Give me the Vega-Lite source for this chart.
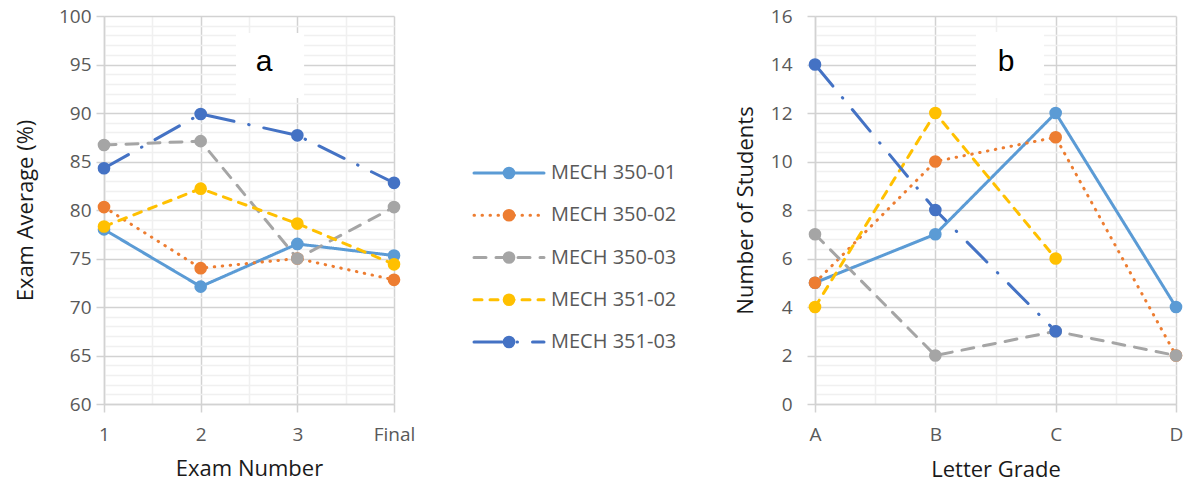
{
  "$schema": "https://vega.github.io/schema/vega-lite/v6.json",
  "padding": {"left": 14, "top": 7, "right": 0, "bottom": 0},
  "background": "white",
  "spacing": 57,
  "datasets": {
    "exams": [
      {"section": "MECH 350-01", "exam": 1, "average": 78.0},
      {"section": "MECH 350-01", "exam": 2, "average": 72.1},
      {"section": "MECH 350-01", "exam": 3, "average": 76.5},
      {"section": "MECH 350-01", "exam": 4, "average": 75.3},
      {"section": "MECH 350-02", "exam": 1, "average": 80.3},
      {"section": "MECH 350-02", "exam": 2, "average": 74.0},
      {"section": "MECH 350-02", "exam": 3, "average": 75.0},
      {"section": "MECH 350-02", "exam": 4, "average": 72.8},
      {"section": "MECH 350-03", "exam": 1, "average": 86.7},
      {"section": "MECH 350-03", "exam": 2, "average": 87.1},
      {"section": "MECH 350-03", "exam": 3, "average": 75.0},
      {"section": "MECH 350-03", "exam": 4, "average": 80.3},
      {"section": "MECH 351-02", "exam": 1, "average": 78.3},
      {"section": "MECH 351-02", "exam": 2, "average": 82.2},
      {"section": "MECH 351-02", "exam": 3, "average": 78.6},
      {"section": "MECH 351-02", "exam": 4, "average": 74.4},
      {"section": "MECH 351-03", "exam": 1, "average": 84.3},
      {"section": "MECH 351-03", "exam": 2, "average": 89.9},
      {"section": "MECH 351-03", "exam": 3, "average": 87.7},
      {"section": "MECH 351-03", "exam": 4, "average": 82.8}
    ],
    "grades": [
      {"section": "MECH 350-01", "grade": 1, "students": 5},
      {"section": "MECH 350-01", "grade": 2, "students": 7},
      {"section": "MECH 350-01", "grade": 3, "students": 12},
      {"section": "MECH 350-01", "grade": 4, "students": 4},
      {"section": "MECH 350-02", "grade": 1, "students": 5},
      {"section": "MECH 350-02", "grade": 2, "students": 10},
      {"section": "MECH 350-02", "grade": 3, "students": 11},
      {"section": "MECH 350-02", "grade": 4, "students": 2},
      {"section": "MECH 350-03", "grade": 1, "students": 7},
      {"section": "MECH 350-03", "grade": 2, "students": 2},
      {"section": "MECH 350-03", "grade": 3, "students": 3},
      {"section": "MECH 350-03", "grade": 4, "students": 2},
      {"section": "MECH 351-02", "grade": 1, "students": 4},
      {"section": "MECH 351-02", "grade": 2, "students": 12},
      {"section": "MECH 351-02", "grade": 3, "students": 6},
      {"section": "MECH 351-03", "grade": 1, "students": 14},
      {"section": "MECH 351-03", "grade": 2, "students": 8},
      {"section": "MECH 351-03", "grade": 3, "students": 3}
    ],
    "legend": [
      {"section": "MECH 350-01"},
      {"section": "MECH 350-02"},
      {"section": "MECH 350-03"},
      {"section": "MECH 351-02"},
      {"section": "MECH 351-03"}
    ]
  },
  "hconcat": [
    {
      "width": 290,
      "height": 388,
      "layer": [
        {
          "data": {"name": "exams"},
          "mark": {"type": "line", "strokeWidth": 3, "strokeCap": "round", "strokeJoin": "round"},
          "encoding": {
            "x": {
              "field": "exam", "type": "quantitative",
              "scale": {"domain": [1, 4], "nice": false, "zero": false},
              "axis": {
                "title": "Exam Number",
                "values": [1, 1.5, 2, 2.5, 3, 3.5, 4],
                "tickCount": 100,
                "tickMinStep": 0.1,
                "labelExpr": "datum.value == 4 ? 'Final' : (datum.value % 1 === 0 ? format(datum.value, 'd') : '')",
                "gridColor": {"condition": {"test": "datum.value % 1 === 0", "value": "#D2D2D2"}, "value": "#F0F0F0"},
                "tickColor": {"condition": {"test": "datum.value % 1 === 0", "value": "#D2D2D2"}, "value": "transparent"},
                "tickSize": 8, "labelPadding": 13, "titlePadding": 14,
                "labelFlush": false, "labelOverlap": false, "labelBound": false
              }
            },
            "y": {
              "field": "average", "type": "quantitative",
              "scale": {"domain": [60, 100], "nice": false, "zero": false},
              "axis": {
                "title": "Exam Average (%)",
                "values": [60,61,62,63,64,65,66,67,68,69,70,71,72,73,74,75,76,77,78,79,80,81,82,83,84,85,86,87,88,89,90,91,92,93,94,95,96,97,98,99,100],
                "tickCount": 100,
                "tickMinStep": 0.1,
                "labelExpr": "datum.value % 5 === 0 ? format(datum.value, 'd') : ''",
                "gridColor": {"condition": {"test": "datum.value % 5 === 0", "value": "#D2D2D2"}, "value": "#F0F0F0"},
                "tickColor": {"condition": {"test": "datum.value % 5 === 0", "value": "#D2D2D2"}, "value": "transparent"},
                "tickSize": 8, "labelPadding": 5, "titlePadding": 21,
                "labelOverlap": false, "labelBound": false, "labelFlush": false
              }
            },
            "color": {"field": "section", "type": "nominal", "legend": null,
              "scale": {"domain": ["MECH 350-01", "MECH 350-02", "MECH 350-03", "MECH 351-02", "MECH 351-03"],
                        "range": ["#5B9BD5", "#ED7D31", "#A5A5A5", "#FFC000", "#4472C4"]}},
            "strokeDash": {"field": "section", "type": "nominal", "legend": null,
              "scale": {"domain": ["MECH 350-01", "MECH 350-02", "MECH 350-03", "MECH 351-02", "MECH 351-03"],
                        "range": [[1, 0], [0.5, 7.5], [12, 10], [8, 8], [28, 15, 0.5, 15]]}}
          }
        },
        {
          "data": {"name": "exams"},
          "mark": {"type": "point", "filled": true, "size": 160, "opacity": 1},
          "encoding": {
            "x": {"field": "exam", "type": "quantitative"},
            "y": {"field": "average", "type": "quantitative"},
            "color": {"field": "section", "type": "nominal", "legend": null}
          }
        },
        {
          "data": {"values": [{"label": "a"}]},
          "mark": {"type": "rect", "color": "white"},
          "encoding": {
            "x": {"datum": 2.366, "type": "quantitative"},
            "x2": {"datum": 3.07},
            "y": {"datum": 98.25, "type": "quantitative"},
            "y2": {"datum": 91.55}
          }
        },
        {
          "data": {"values": [{"label": "a"}]},
          "mark": {"type": "text", "font": "Liberation Sans", "fontSize": 30, "color": "black"},
          "encoding": {
            "x": {"datum": 2.655, "type": "quantitative"},
            "y": {"datum": 95.3, "type": "quantitative"},
            "text": {"field": "label"}
          }
        }
      ]
    },
    {
      "width": 70,
      "height": 388,
      "data": {"name": "legend"},
      "layer": [
        {
          "mark": {"type": "rule", "strokeWidth": 3, "strokeCap": "round"},
          "encoding": {
            "x": {"datum": 0, "type": "quantitative", "scale": {"domain": [0, 1], "nice": false, "zero": false}, "axis": null},
            "x2": {"datum": 1},
            "y": {"field": "section", "type": "nominal", "axis": null,
              "scale": {"type": "point", "padding": 0, "range": [157, 326],
                        "domain": ["MECH 350-01", "MECH 350-02", "MECH 350-03", "MECH 351-02", "MECH 351-03"]}},
            "color": {"field": "section", "type": "nominal", "legend": null},
            "strokeDash": {"field": "section", "type": "nominal", "legend": null}
          }
        },
        {
          "mark": {"type": "point", "filled": true, "size": 160, "opacity": 1},
          "encoding": {
            "x": {"datum": 0.5, "type": "quantitative"},
            "y": {"field": "section", "type": "nominal"},
            "color": {"field": "section", "type": "nominal", "legend": null}
          }
        },
        {
          "mark": {"type": "text", "align": "left", "baseline": "middle", "dx": 7, "fontSize": 20, "font": "Open Sans", "color": "#595959"},
          "encoding": {
            "x": {"datum": 1, "type": "quantitative"},
            "y": {"field": "section", "type": "nominal"},
            "text": {"field": "section"}
          }
        }
      ]
    },
    {
      "width": 361,
      "height": 388,
      "layer": [
        {
          "data": {"name": "grades"},
          "mark": {"type": "line", "strokeWidth": 3, "strokeCap": "round", "strokeJoin": "round"},
          "encoding": {
            "x": {
              "field": "grade", "type": "quantitative",
              "scale": {"domain": [1, 4], "nice": false, "zero": false},
              "axis": {
                "title": "Letter Grade",
                "values": [1, 1.5, 2, 2.5, 3, 3.5, 4],
                "tickCount": 100,
                "tickMinStep": 0.1,
                "labelExpr": "datum.value % 1 === 0 ? ['', 'A', 'B', 'C', 'D'][datum.value] : ''",
                "gridColor": {"condition": {"test": "datum.value % 1 === 0", "value": "#D2D2D2"}, "value": "#F0F0F0"},
                "tickColor": {"condition": {"test": "datum.value % 1 === 0", "value": "#D2D2D2"}, "value": "transparent"},
                "tickSize": 8, "labelPadding": 13, "titlePadding": 15,
                "labelFlush": false, "labelOverlap": false, "labelBound": false
              }
            },
            "y": {
              "field": "students", "type": "quantitative",
              "scale": {"domain": [0, 16], "nice": false, "zero": false},
              "axis": {
                "title": "Number of Students",
                "values": [0,0.4,0.8,1.2,1.6,2,2.4,2.8,3.2,3.6,4,4.4,4.8,5.2,5.6,6,6.4,6.8,7.2,7.6,8,8.4,8.8,9.2,9.6,10,10.4,10.8,11.2,11.6,12,12.4,12.8,13.2,13.6,14,14.4,14.8,15.2,15.6,16],
                "tickCount": 100,
                "tickMinStep": 0.1,
                "labelExpr": "abs(datum.value / 2 - round(datum.value / 2)) < 0.001 ? format(datum.value, 'd') : ''",
                "gridColor": {"condition": {"test": "abs(datum.value / 2 - round(datum.value / 2)) < 0.001", "value": "#D2D2D2"}, "value": "#F0F0F0"},
                "tickColor": {"condition": {"test": "abs(datum.value / 2 - round(datum.value / 2)) < 0.001", "value": "#D2D2D2"}, "value": "transparent"},
                "tickSize": 8, "labelPadding": 15, "titlePadding": 13,
                "labelOverlap": false, "labelBound": false, "labelFlush": false
              }
            },
            "color": {"field": "section", "type": "nominal", "legend": null},
            "strokeDash": {"field": "section", "type": "nominal", "legend": null}
          }
        },
        {
          "data": {"name": "grades"},
          "mark": {"type": "point", "filled": true, "size": 160, "opacity": 1},
          "encoding": {
            "x": {"field": "grade", "type": "quantitative"},
            "y": {"field": "students", "type": "quantitative"},
            "color": {"field": "section", "type": "nominal", "legend": null}
          }
        },
        {
          "data": {"values": [{"label": "b"}]},
          "mark": {"type": "rect", "color": "white"},
          "encoding": {
            "x": {"datum": 2.338, "type": "quantitative"},
            "x2": {"datum": 2.903},
            "y": {"datum": 15.34, "type": "quantitative"},
            "y2": {"datum": 12.62}
          }
        },
        {
          "data": {"values": [{"label": "b"}]},
          "mark": {"type": "text", "font": "Liberation Sans", "fontSize": 30, "color": "black"},
          "encoding": {
            "x": {"datum": 2.587, "type": "quantitative"},
            "y": {"datum": 14.1, "type": "quantitative"},
            "text": {"field": "label"}
          }
        }
      ]
    }
  ],
  "resolve": {"scale": {"color": "shared", "strokeDash": "shared"}},
  "config": {
    "view": {"stroke": null},
    "font": "Open Sans",
    "axis": {
      "labelFont": "Open Sans",
      "labelFontSize": 19,
      "labelColor": "#595959",
      "titleFont": "Open Sans",
      "titleFontSize": 22,
      "titleFontWeight": "normal",
      "titleColor": "#1a1a1a",
      "domainColor": "#D2D2D2",
      "domainWidth": 1.5,
      "gridWidth": 1.5,
      "tickWidth": 1.5
    }
  }
}
